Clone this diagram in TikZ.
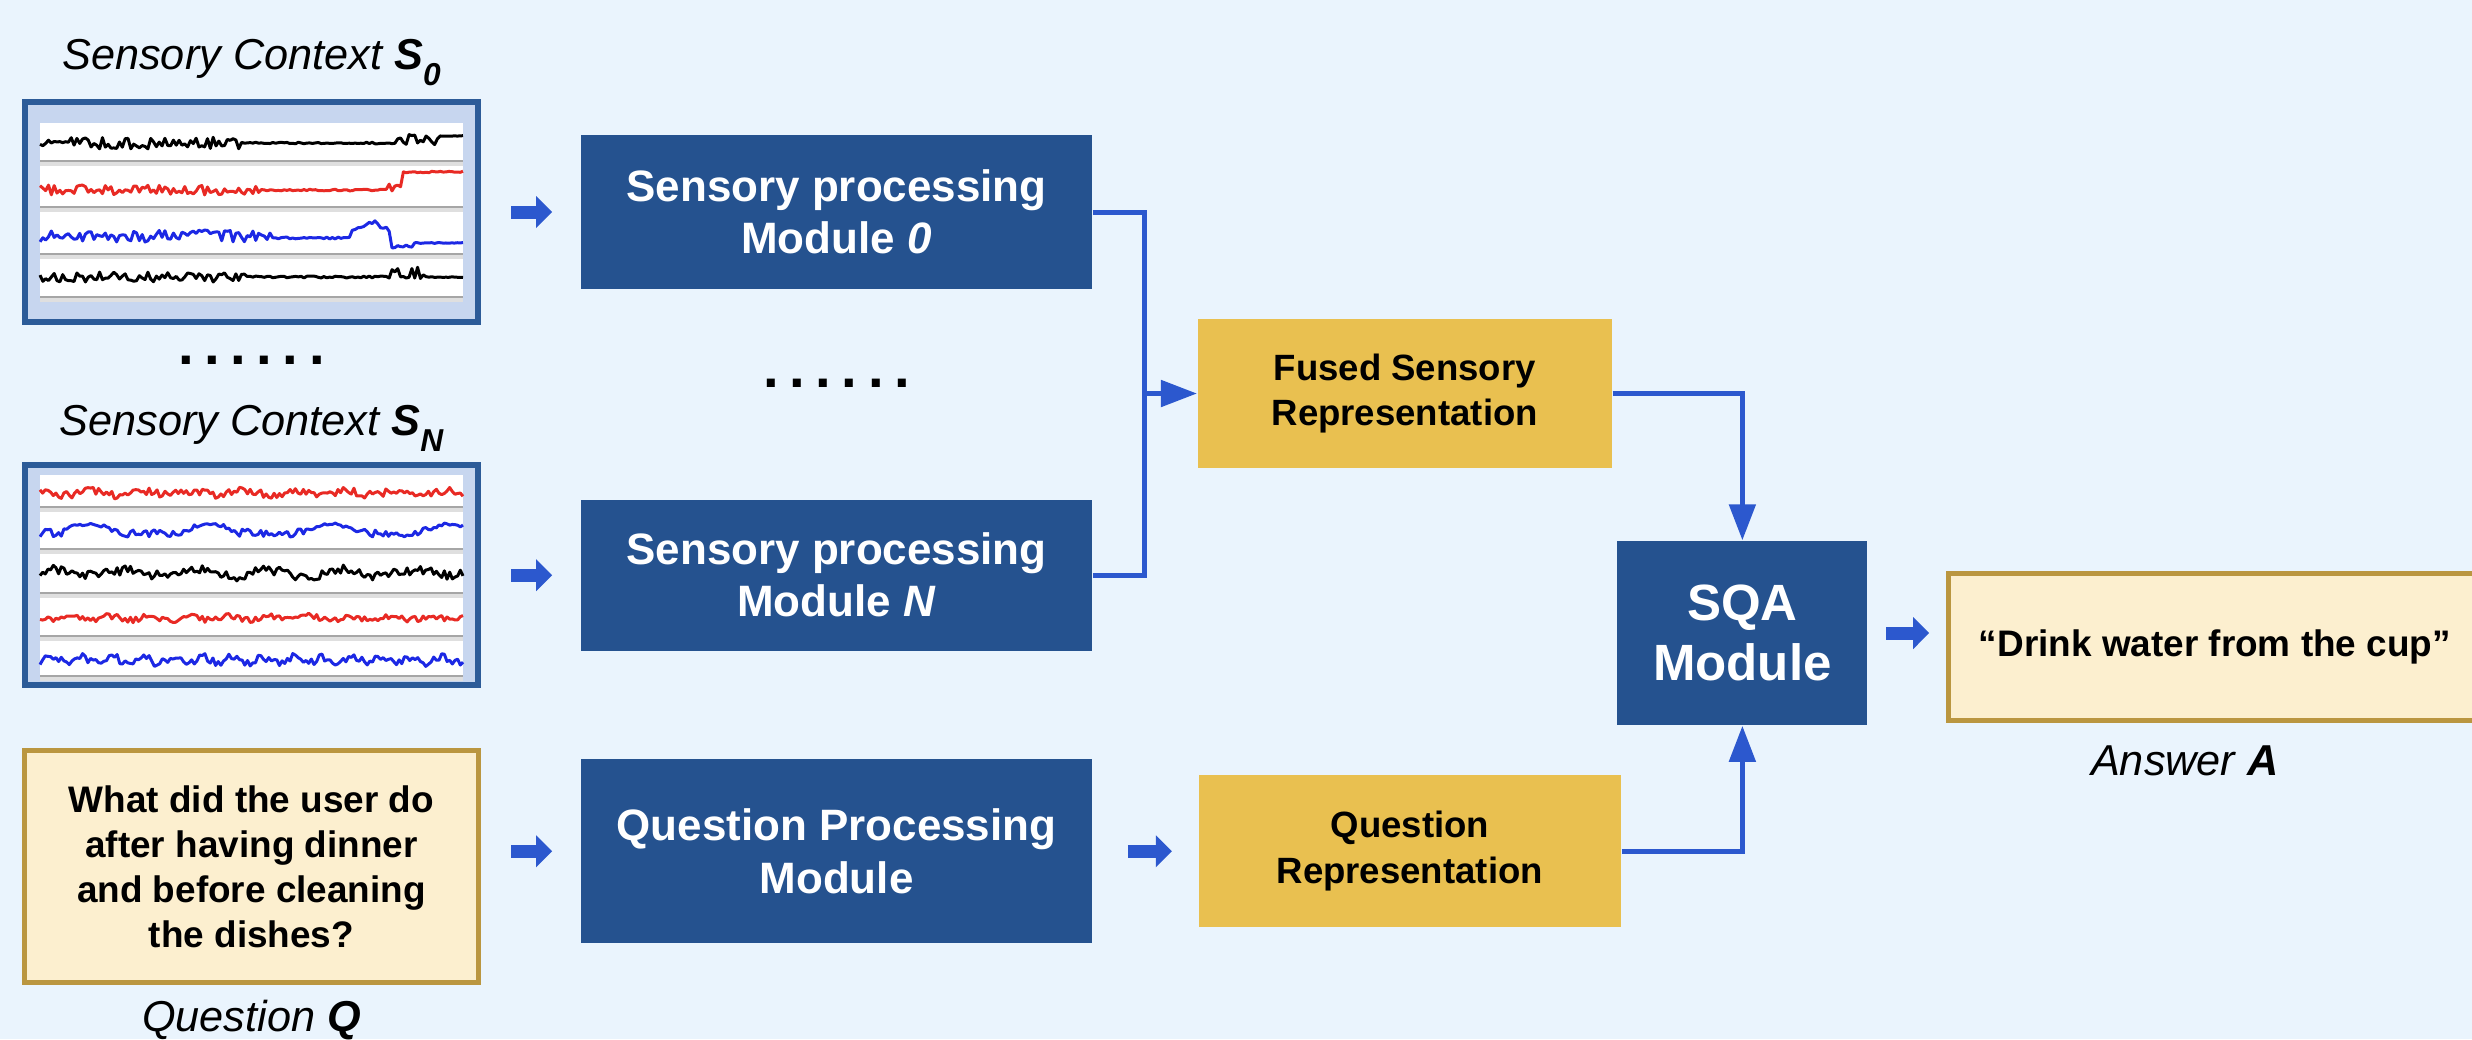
\documentclass[tikz,border=0pt]{standalone}
\usepackage{fontspec}
\setmainfont{Liberation Sans}
\usepackage{tikz}
\usetikzlibrary{arrows.meta}
\usetikzlibrary{positioning, calc}

\definecolor{bgblue}{RGB}{234,244,253}
\definecolor{modblue}{RGB}{37,82,143}
\definecolor{repyellow}{RGB}{233,192,80}
\definecolor{qcream}{RGB}{252,239,207}
\definecolor{qborder}{RGB}{186,150,64}
\definecolor{ctxfill}{RGB}{199,214,239}
\definecolor{ctxborder}{RGB}{44,91,152}
\definecolor{arrblue}{RGB}{44,88,206}
\definecolor{sigred}{RGB}{232,42,36}
\definecolor{sigblue}{RGB}{28,40,228}

\newcommand{\lowidx}[1]{\raisebox{-0.16cm}{\fontsize{9}{9}\selectfont\bfseries\itshape #1}}

\begin{document}
\begin{tikzpicture}[x=0.01cm, y=-0.01cm, >={Triangle[length=0.36cm,width=0.26cm]},
  mod node/.style={rectangle, fill=modblue, text=white, align=center, inner sep=0pt,
    minimum width=5.11cm, font=\bfseries\fontsize{12.5}{14.8}\selectfont},
  rep node/.style={rectangle, fill=repyellow, align=center, inner sep=0pt,
    font=\bfseries\fontsize{10.4}{13}\selectfont},
  txt node/.style={rectangle, draw=qborder, line width=0.05cm, fill=qcream, align=center,
    inner sep=0pt, font=\bfseries\fontsize{10.5}{12.8}\selectfont},
  ctx node/.style={rectangle, draw=ctxborder, line width=0.06cm, fill=ctxfill,
    minimum width=4.53cm, minimum height=2.2cm},
  lbl node/.style={anchor=base, font=\itshape\fontsize{12.3}{15}\selectfont},
  dot node/.style={anchor=base, font=\bfseries\fontsize{16}{16}\selectfont},
  link/.style={draw=arrblue, line width=0.05cm},
  fat arrow/.style={arrblue, line width=0.13cm, -{Triangle[length=0.16cm,width=0.31cm]}},
  sig/.style={line width=0.85pt, line join=round}]
  \fill[bgblue] (0,0) rectangle (2472,1039);
  \useasboundingbox (0,0) rectangle (2472,1039);

  \node[ctx node] (s0) at (251.5,212) {};
  \node[ctx node, below=1.37cm of s0] (sN) {};
  \node[txt node, below=0.6cm of sN, minimum width=4.54cm, minimum height=2.32cm] (qbox)
    {What did the user do\\after having dinner\\and before cleaning\\the dishes?};
  \node[mod node, right=0.99cm of s0, minimum height=1.54cm] (m0) {Sensory processing\\Module \textit{0}};
  \node[mod node, right=0.99cm of sN, minimum height=1.51cm] (mN) {Sensory processing\\Module \textit{N}};
  \node[mod node, below=1.07cm of mN, minimum height=1.84cm] (qpm) {Question Processing\\Module};
  \node[rep node, below right=0.29cm and 1.04cm of m0, minimum width=4.14cm, minimum height=1.48cm] (fused)
    {Fused Sensory\\Representation};
  \node[rep node, right=1.05cm of qpm, minimum width=4.22cm, minimum height=1.52cm] (qr)
    {Question\\Representation};
  \node[mod node, below right=0.72cm and 0.04cm of fused, minimum width=2.5cm, minimum height=1.84cm,
    font=\bfseries\fontsize{14.5}{17}\selectfont] (sqa) {SQA\\Module};
  \node[txt node, right=0.78cm of sqa, yshift=-0.14cm, minimum width=5.32cm, minimum height=1.47cm] (ans)
    {“Drink water from the cup”};

  \node[lbl node] (t0) at ([yshift=0.29cm]s0.north) {Sensory Context \textbf{S}\lowidx{0}};
  \node[lbl node] (tN) at ([yshift=0.27cm]sN.north) {Sensory Context \textbf{S}\lowidx{N}};
  \node[lbl node] (tq) at ([yshift=-0.46cm]qbox.south) {Question \textbf{Q}};
  \node[lbl node] (ta) at ([yshift=-0.52cm,xshift=-0.3cm]ans.south) {Answer \textbf{A}};
  \node[dot node] (d0) at ([yshift=-0.39cm]s0.south) {.\kern3pt.\kern3pt.\kern3pt.\kern3pt.\kern3pt.};
  \node[dot node] (d1) at ([yshift=-0.98cm]m0.south) {.\kern3pt.\kern3pt.\kern3pt.\kern3pt.\kern3pt.};

  \fill[white] (40,123) rectangle (463,298);
  \fill[white] (40,475) rectangle (463,677);
  \foreach \y in {161,207,254,297,507,549,593,636,676}
    \fill[gray!25] (40,\y) rectangle (463,\y+5);
  \foreach \y in {161,207,254,297,507,549,593,636,676}
    \draw[gray!70, line width=0.3pt] (40,\y) -- (463,\y);

  \pgfmathsetseed{7}
  \draw[sig, black] plot[domain=40:463, samples=150]
    (\x,{ifthenelse(\x<240,143+6*rand,ifthenelse(\x<395,143+0.8*rand,ifthenelse(\x<440,139+6*rand,136+0.4*rand)))});
  \draw[sig, sigred] plot[domain=40:463, samples=150]
    (\x,{ifthenelse(\x<260,190+5*rand,ifthenelse(\x<388,190+0.8*rand,ifthenelse(\x<402,186+5*rand,172+0.8*rand)))});
  \draw[sig, sigblue] plot[domain=40:463, samples=150]
    (\x,{ifthenelse(\x<270,236+6*rand,ifthenelse(\x<350,238+rand,ifthenelse(\x<392,231-8*sin((\x-350)*4.3)+3*rand,ifthenelse(\x<412,246+2*rand,243+0.4*rand))))});
  \draw[sig, black] plot[domain=40:463, samples=150]
    (\x,{ifthenelse(\x<250,277+5*rand,ifthenelse(\x<390,277+rand,ifthenelse(\x<425,273+6*rand,277+0.4*rand)))});

  \draw[sig, sigred] plot[domain=40:463, samples=160] (\x,{493+4*rand+2*sin(\x*7)});
  \draw[sig, sigblue] plot[domain=40:463, samples=160]
    (\x,{533-9*max(0,sin((\x-60)*3))+4*rand*(1-0.7*max(0,sin((\x-60)*3)))});
  \draw[sig, black] plot[domain=40:463, samples=160] (\x,{573+5*rand+3*sin(\x*5)});
  \draw[sig, sigred] plot[domain=40:463, samples=160] (\x,{618+3*rand+2*sin(\x*9)});
  \draw[sig, sigblue] plot[domain=40:463, samples=160] (\x,{660+4*rand+3*sin(\x*12)});

  \draw[fat arrow, shorten <=0.3cm, shorten >=0.28cm] (s0.east) -- (m0.west);
  \draw[fat arrow, shorten <=0.3cm, shorten >=0.28cm] (sN.east) -- (mN.west);
  \draw[fat arrow, shorten <=0.3cm, shorten >=0.28cm] (qpm.west -| qbox.east) -- (qpm.west);
  \draw[fat arrow, shorten <=0.35cm, shorten >=0.26cm] (qpm.east) -- (qr.west);
  \draw[fat arrow, shorten <=0.18cm, shorten >=0.17cm] (sqa.east) -- (sqa.east -| ans.west);

  \coordinate (j1) at ([xshift=-0.52cm]fused.west);
  \draw[link] (m0.east) -| (j1) |- (mN.east);
  \draw[link, ->] (j1) -- (fused.west);
  \draw[link, ->] (fused.east) -| (sqa.north);
  \draw[link, ->] (qr.east) -| (sqa.south);
\end{tikzpicture}
\end{document}
